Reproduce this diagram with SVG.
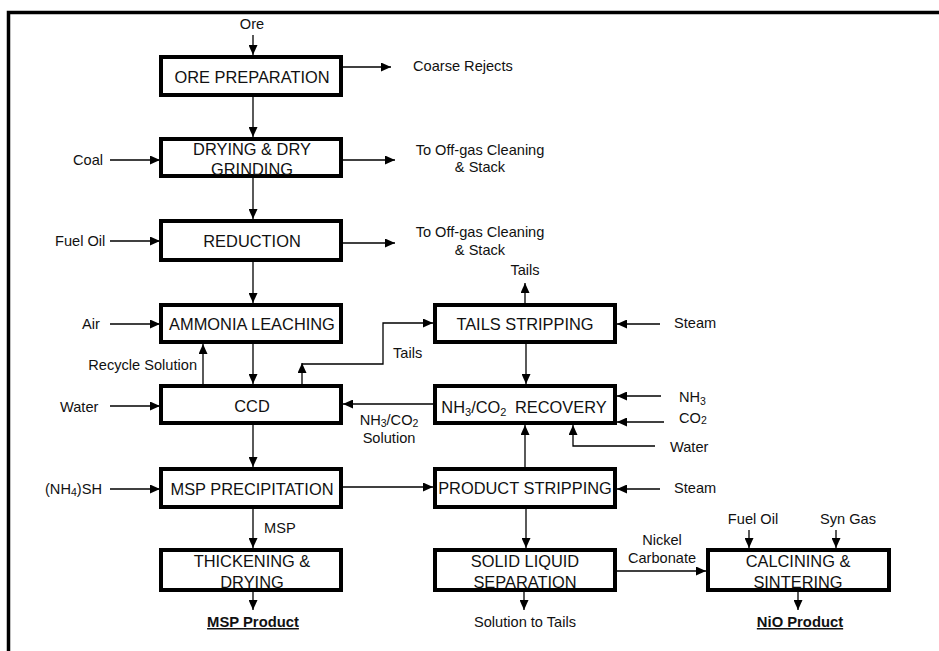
<svg xmlns="http://www.w3.org/2000/svg" width="939" height="651" viewBox="0 0 939 651">
  <defs>
    <marker id="ah" viewBox="0 0 10 9" refX="10" refY="4.5" markerWidth="10" markerHeight="9" markerUnits="userSpaceOnUse" orient="auto">
      <path d="M0,0 L10,4.5 L0,9 Z" fill="#000"/>
    </marker>
    <style>
      .box { fill: #fff; stroke: #000; stroke-width: 4; }
      .bt { font-family: "Liberation Sans", Arial, sans-serif; font-size: 16.4px; fill: #111; text-anchor: middle; }
      .lb { font-family: "Liberation Sans", Arial, sans-serif; font-size: 14.6px; fill: #111; }
      .mid { text-anchor: middle; }
      .end { text-anchor: end; }
      .prod { font-family: "Liberation Sans", Arial, sans-serif; font-size: 14.8px; font-weight: bold; fill: #111; text-anchor: middle; text-decoration: underline; }
      .ln { fill: none; stroke: #000; stroke-width: 1.3; }
      .arr { fill: none; stroke: #000; stroke-width: 1.3; marker-end: url(#ah); }
      .frame { fill: none; stroke: #000; stroke-width: 3.5; }
    </style>
  </defs>

  <rect width="939" height="651" fill="#fff"/>
  <path class="frame" d="M8.5,651 V12.5 H939"/>

  <!-- connectors -->
  <g id="connectors">
    <!-- main left column -->
    <line class="arr" x1="253" y1="35" x2="253" y2="55"/>
    <line class="arr" x1="253" y1="97" x2="253" y2="137"/>
    <line class="arr" x1="253" y1="178" x2="253" y2="219"/>
    <line class="arr" x1="253" y1="262" x2="253" y2="303"/>
    <line class="arr" x1="253" y1="344" x2="253" y2="384"/>
    <line class="arr" x1="253" y1="425" x2="253" y2="467"/>
    <line class="arr" x1="253" y1="509" x2="253" y2="548"/>
    <line class="arr" x1="253" y1="592" x2="253" y2="610"/>
    <!-- side outputs -->
    <line class="arr" x1="343" y1="67" x2="391" y2="67"/>
    <line class="arr" x1="343" y1="160" x2="395" y2="160"/>
    <line class="arr" x1="343" y1="243" x2="395" y2="243"/>
    <!-- side inputs, left -->
    <line class="arr" x1="110" y1="160" x2="160" y2="160"/>
    <line class="arr" x1="110" y1="241" x2="160" y2="241"/>
    <line class="arr" x1="110" y1="324" x2="160" y2="324"/>
    <line class="arr" x1="110" y1="406" x2="160" y2="406"/>
    <line class="arr" x1="110" y1="489" x2="160" y2="489"/>
    <!-- recycle solution -->
    <line class="arr" x1="203" y1="384" x2="203" y2="344"/>
    <!-- tails from CCD to tails stripping -->
    <line class="arr" x1="302" y1="384" x2="302" y2="363"/>
    <polyline class="arr" points="302,364 383,364 383,323 433,323"/>
    <!-- right column -->
    <line class="arr" x1="525" y1="303" x2="525" y2="283"/>
    <line class="arr" x1="526" y1="344" x2="526" y2="384"/>
    <line class="arr" x1="525" y1="467" x2="525" y2="425"/>
    <line class="arr" x1="526" y1="509" x2="526" y2="548"/>
    <line class="arr" x1="524" y1="592" x2="524" y2="610"/>
    <!-- side inputs, right -->
    <line class="arr" x1="660" y1="324" x2="617" y2="324"/>
    <line class="arr" x1="661" y1="396" x2="617" y2="396"/>
    <line class="arr" x1="664" y1="422" x2="617" y2="422"/>
    <polyline class="arr" points="655,446 573,446 573,425"/>
    <line class="arr" x1="660" y1="489" x2="617" y2="489"/>
    <!-- cross flows -->
    <line class="arr" x1="433" y1="404" x2="343" y2="404"/>
    <line class="arr" x1="343" y1="487" x2="433" y2="487"/>
    <line class="arr" x1="617" y1="571" x2="706" y2="571"/>
    <!-- calcining inputs and output -->
    <line class="arr" x1="749" y1="530" x2="749" y2="548"/>
    <line class="arr" x1="836" y1="530" x2="836" y2="548"/>
    <line class="arr" x1="798" y1="592" x2="798" y2="610"/>
  </g>

  <!-- process blocks -->
  <g id="ore-preparation">
    <rect class="box" x="161" y="57" width="180" height="38"/>
    <text class="bt" x="252" y="83">ORE PREPARATION</text>
  </g>
  <g id="drying-grinding">
    <rect class="box" x="161" y="139" width="180" height="37"/>
    <text class="bt" x="252" y="155">DRYING &amp; DRY</text>
    <text class="bt" x="252" y="175">GRINDING</text>
  </g>
  <g id="reduction">
    <rect class="box" x="161" y="221" width="180" height="39"/>
    <text class="bt" x="252" y="246.5">REDUCTION</text>
  </g>
  <g id="ammonia-leaching">
    <rect class="box" x="161" y="305" width="180" height="37"/>
    <text class="bt" x="252" y="330">AMMONIA LEACHING</text>
  </g>
  <g id="ccd">
    <rect class="box" x="161" y="386" width="180" height="37"/>
    <text class="bt" x="252" y="412">CCD</text>
  </g>
  <g id="msp-precipitation">
    <rect class="box" x="161" y="469" width="180" height="38"/>
    <text class="bt" x="252" y="495">MSP PRECIPITATION</text>
  </g>
  <g id="thickening-drying">
    <rect class="box" x="161" y="550" width="180" height="40"/>
    <text class="bt" x="252" y="567">THICKENING &amp;</text>
    <text class="bt" x="252" y="588">DRYING</text>
  </g>
  <g id="tails-stripping">
    <rect class="box" x="435" y="305" width="180" height="37"/>
    <text class="bt" x="525" y="330">TAILS STRIPPING</text>
  </g>
  <g id="nh3-co2-recovery">
    <rect class="box" x="435" y="386" width="180" height="37"/>
    <text class="bt" x="524" y="413">NH<tspan font-size="11" dy="3">3</tspan><tspan dy="-3">/CO</tspan><tspan font-size="11" dy="3">2</tspan><tspan dy="-3" dx="4"> RECOVERY</tspan></text>
  </g>
  <g id="product-stripping">
    <rect class="box" x="435" y="469" width="180" height="38"/>
    <text class="bt" x="525" y="494">PRODUCT STRIPPING</text>
  </g>
  <g id="solid-liquid-separation">
    <rect class="box" x="435" y="550" width="180" height="40"/>
    <text class="bt" x="525" y="567">SOLID LIQUID</text>
    <text class="bt" x="525" y="588">SEPARATION</text>
  </g>
  <g id="calcining-sintering">
    <rect class="box" x="708" y="550" width="181" height="40"/>
    <text class="bt" x="798" y="567">CALCINING &amp;</text>
    <text class="bt" x="798" y="588">SINTERING</text>
  </g>

  <!-- stream labels -->
  <g id="labels">
    <text class="lb mid" x="252" y="29">Ore</text>
    <text class="lb" x="413" y="71">Coarse Rejects</text>
    <text class="lb mid" x="480" y="155">To Off-gas Cleaning</text>
    <text class="lb mid" x="480" y="172">&amp; Stack</text>
    <text class="lb mid" x="480" y="237">To Off-gas Cleaning</text>
    <text class="lb mid" x="480" y="255">&amp; Stack</text>
    <text class="lb" x="73" y="165">Coal</text>
    <text class="lb" x="55" y="246">Fuel Oil</text>
    <text class="lb" x="82" y="329">Air</text>
    <text class="lb end" x="197" y="370">Recycle Solution</text>
    <text class="lb" x="60" y="412">Water</text>
    <text class="lb" x="45" y="494">(NH<tspan font-size="10.5" dy="2">4</tspan><tspan dy="-2">)SH</tspan></text>
    <text class="lb" x="264" y="533">MSP</text>
    <text class="prod" x="253" y="627">MSP Product</text>
    <text class="lb" x="393" y="358">Tails</text>
    <text class="lb mid" x="525" y="275">Tails</text>
    <text class="lb" x="674" y="328">Steam</text>
    <text class="lb" x="679" y="402">NH<tspan font-size="10.5" dy="3">3</tspan></text>
    <text class="lb" x="679" y="423">CO<tspan font-size="10.5" dy="1">2</tspan></text>
    <text class="lb mid" x="389" y="425">NH<tspan font-size="10.5" dy="2">3</tspan><tspan dy="-2">/CO</tspan><tspan font-size="10.5" dy="2">2</tspan></text>
    <text class="lb mid" x="389" y="443">Solution</text>
    <text class="lb" x="670" y="452">Water</text>
    <text class="lb" x="674" y="493">Steam</text>
    <text class="lb mid" x="662" y="545">Nickel</text>
    <text class="lb mid" x="662" y="563">Carbonate</text>
    <text class="lb mid" x="753" y="524">Fuel Oil</text>
    <text class="lb mid" x="848" y="524">Syn Gas</text>
    <text class="lb mid" x="525" y="627">Solution to Tails</text>
    <text class="prod" x="800" y="627">NiO Product</text>
  </g>
</svg>
